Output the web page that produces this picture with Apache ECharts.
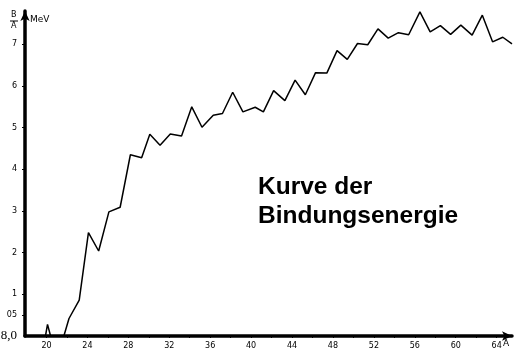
<!DOCTYPE html>
<html>
<head>
<meta charset="utf-8">
<script src="https://cdn.jsdelivr.net/npm/echarts@6/dist/echarts.min.js"></script>
<style>html,body{margin:0;padding:0;background:#fff;}#c{width:524px;height:358px;}</style>
</head>
<body>
<div id="c"></div>
<script>
// Mass number A and binding energy per nucleon B/A (MeV)
const massNumber = [19.9, 20.1, 20.4, 21.7, 22.2, 23.2, 24.1, 25.1, 26.1, 27.2, 28.2, 29.3, 30.1, 31.1, 32.1, 33.2, 34.2, 35.2, 36.3, 37.2, 38.2, 39.2, 40.4, 41.2, 42.2, 43.3, 44.3, 45.3, 46.3, 47.4, 48.4, 49.4, 50.4, 51.4, 52.4, 53.4, 54.4, 55.4, 56.5, 57.5, 58.5, 59.5, 60.5, 61.6, 62.6, 63.6, 64.6, 65.5];
const bindingPerNucleon = [0, 0.28, 0, 0, 0.42, 0.86, 2.48, 2.04, 2.98, 3.09, 4.35, 4.28, 4.84, 4.58, 4.85, 4.80, 5.50, 5.01, 5.30, 5.34, 5.85, 5.38, 5.49, 5.38, 5.89, 5.65, 6.14, 5.79, 6.32, 6.31, 6.85, 6.64, 7.02, 6.99, 7.37, 7.15, 7.28, 7.23, 7.78, 7.30, 7.45, 7.24, 7.46, 7.22, 7.70, 7.06, 7.17, 7.01];
const xTickLabels = [20, 24, 28, 32, 36, 40, 44, 48, 52, 56, 60, 64];
const xMinorTicks = [20, 22, 24, 26, 28, 30, 32, 34, 36, 38, 40, 42, 44, 46, 48, 50, 52, 54, 56, 58, 60, 62, 64];
const yTickValues = [0, 0.5, 1, 2, 3, 4, 5, 6, 7];
const yTickText = ['8,0', '05', '1', '2', '3', '4', '5', '6', '7'];
const titleLines = ['Kurve der', 'Bindungsenergie'];

const chart = echarts.init(document.getElementById('c'), null, {renderer: 'canvas'});
const pts = massNumber.map((a, i) => [a, bindingPerNucleon[i]]);
const hand = 'DejaVu Sans';
chart.setOption({
  animation: false,
  grid: {left: 25, right: 12, top: 11, bottom: 22, containLabel: false, outerBoundsMode: 'none'},
  xAxis: {
    type: 'value', min: 17.9, max: 65.5,
    axisLine: {show: true, symbol: ['none', 'arrow'], symbolSize: [7, 10], lineStyle: {color: '#000', width: 3.5}},
    axisTick: {show: true, customValues: xMinorTicks, length: 2, lineStyle: {color: '#000', width: 1}},
    axisLabel: {customValues: xTickLabels, color: '#000', fontFamily: hand, fontSize: 8, margin: 6},
    splitLine: {show: false}
  },
  yAxis: {
    type: 'value', min: 0, max: 7.8,
    axisLine: {show: true, symbol: ['none', 'arrow'], symbolSize: [7, 10], lineStyle: {color: '#000', width: 3.5}},
    axisTick: {show: true, customValues: yTickValues.slice(1), length: 3, lineStyle: {color: '#000', width: 1}},
    axisLabel: {
      customValues: yTickValues, color: '#000', fontFamily: hand, fontSize: 8, margin: 8,
      formatter: function (v) { const i = yTickValues.indexOf(v); return i === 0 ? '{big|' + yTickText[0] + '}' : yTickText[i]; },
      rich: {big: {fontFamily: '"Liberation Serif"', fontSize: 13, color: '#000'}}
    },
    splitLine: {show: false}
  },
  series: [{
    type: 'line', data: pts, showSymbol: false, clip: false,
    lineStyle: {color: '#000', width: 1.5}, z: 1
  }],
  graphic: [
    {type: 'text', left: 11, top: 11, style: {text: 'B', font: '8px ' + hand, fill: '#000'}},
    {type: 'line', shape: {x1: 10, y1: 21, x2: 18, y2: 21}, style: {stroke: '#000', lineWidth: 1}},
    {type: 'text', left: 11, top: 22, style: {text: 'A', font: '8px ' + hand, fill: '#000'}},
    {type: 'text', left: 30, top: 15, style: {text: 'MeV', font: '9px ' + hand, fill: '#000'}},
    {type: 'text', left: 503, top: 339, style: {text: 'A', font: '9px ' + hand, fill: '#000'}},
    {type: 'text', left: 258, top: 175, style: {text: titleLines[0], font: 'bold 24.5px "Liberation Sans", Arial', fill: '#000'}},
    {type: 'text', left: 258, top: 204, style: {text: titleLines[1], font: 'bold 24.5px "Liberation Sans", Arial', fill: '#000'}}
  ]
});
</script>
</body>
</html>
